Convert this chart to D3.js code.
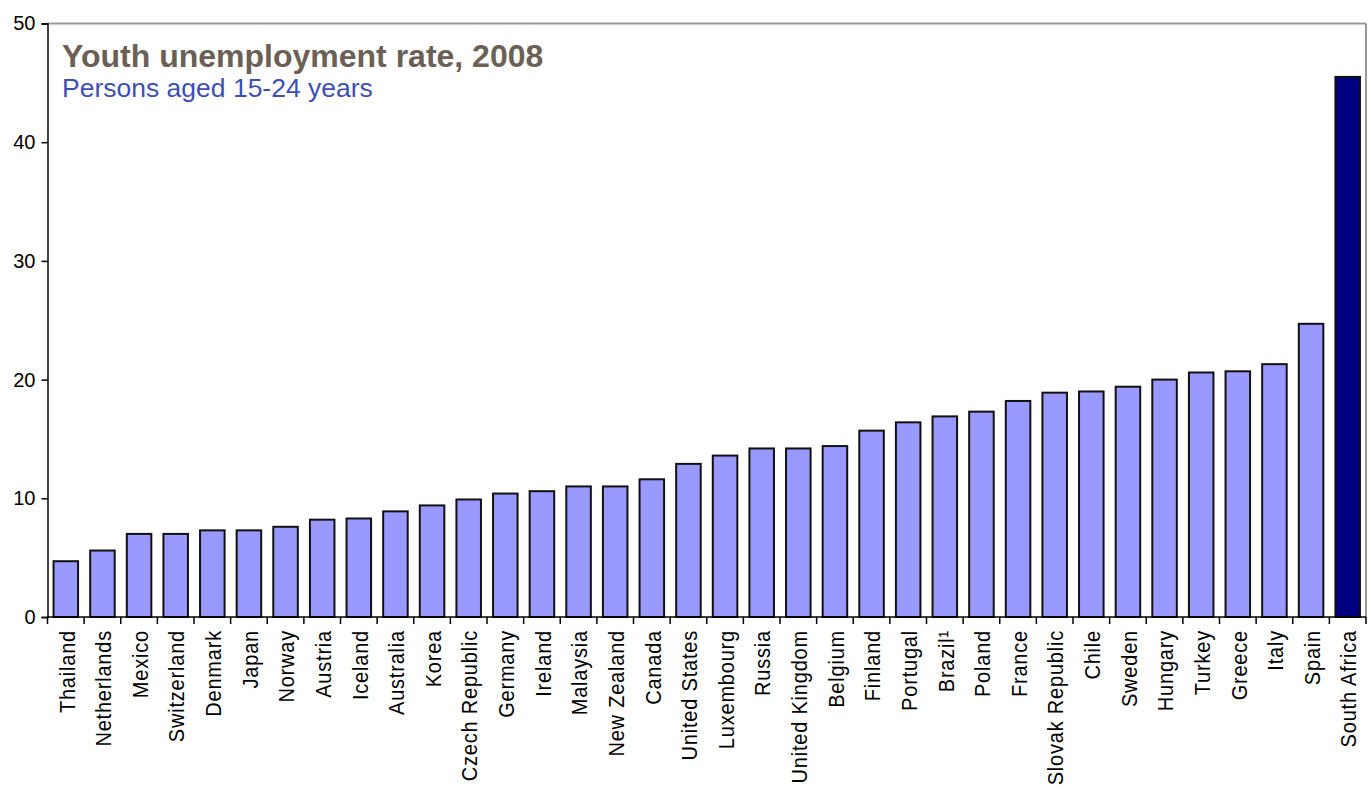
<!DOCTYPE html>
<html>
<head>
<meta charset="utf-8">
<script src="https://cdn.jsdelivr.net/npm/d3@7"></script>
<style>
  html, body { margin: 0; padding: 0; background: #fff; }
  svg { display: block; font-family: "Liberation Sans", Arial, sans-serif; }
</style>
</head>
<body>
<svg id="chart" width="1372" height="788"></svg>
<script>
// Youth unemployment rate by country, 2008 (persons aged 15-24, %)
const countries = [
  "Thailand", "Netherlands", "Mexico", "Switzerland", "Denmark", "Japan",
  "Norway", "Austria", "Iceland", "Australia", "Korea", "Czech Republic",
  "Germany", "Ireland", "Malaysia", "New Zealand", "Canada", "United States",
  "Luxembourg", "Russia", "United Kingdom", "Belgium", "Finland", "Portugal",
  "Brazil\u00B9", "Poland", "France", "Slovak Republic", "Chile", "Sweden",
  "Hungary", "Turkey", "Greece", "Italy", "Spain", "South Africa"
];
const rates = [
  4.7, 5.6, 7.0, 7.0, 7.3, 7.3,
  7.6, 8.2, 8.3, 8.9, 9.4, 9.9,
  10.4, 10.6, 11.0, 11.0, 11.6, 12.9,
  13.6, 14.2, 14.2, 14.4, 15.7, 16.4,
  16.9, 17.3, 18.2, 18.9, 19.0, 19.4,
  20.0, 20.6, 20.7, 21.3, 24.7, 45.5
];
const highlighted = ["South Africa"];
const yTicks = [0, 10, 20, 30, 40, 50];
const titleText = "Youth unemployment rate, 2008";
const subtitleText = "Persons aged 15-24 years";

const rows = countries.map((c, i) => ({ country: c, rate: rates[i] }));

const svg = d3.select("#chart");
const W = 1372, H = 788;
const margin = { left: 47.5, right: 6, top: 23.5, bottom: 171 };
const x0 = margin.left, x1 = W - margin.right;
const y0 = H - margin.bottom, y1 = margin.top;

const x = d3.scaleBand()
  .domain(countries)
  .range([x0, x1])
  .paddingInner(0.33)
  .paddingOuter(0.165);

const y = d3.scaleLinear().domain([0, 50]).range([y0, y1]);

// plot frame: grey top and right edges
svg.append("line")
  .attr("x1", x0).attr("x2", x1).attr("y1", y1).attr("y2", y1)
  .attr("stroke", "#999").attr("stroke-width", 2);
svg.append("line")
  .attr("x1", x1).attr("x2", x1).attr("y1", y1).attr("y2", y0)
  .attr("stroke", "#999").attr("stroke-width", 2);

// bars
svg.append("g").selectAll("rect")
  .data(rows)
  .join("rect")
  .attr("x", d => x(d.country))
  .attr("width", x.bandwidth())
  .attr("y", d => y(d.rate))
  .attr("height", d => y(0) - y(d.rate))
  .attr("fill", d => highlighted.includes(d.country) ? "#000080" : "#9999ff")
  .attr("stroke", "#111")
  .attr("stroke-width", 2);

// y axis
const yAxis = d3.axisLeft(y).tickValues(yTicks).tickSize(6).tickPadding(6);
const gy = svg.append("g").attr("transform", `translate(${x0},0)`).call(yAxis);
gy.select(".domain").attr("stroke", "#000").attr("stroke-width", 1.5);
gy.selectAll(".tick line").attr("stroke", "#000").attr("stroke-width", 1.5);
gy.selectAll(".tick text")
  .attr("font-size", 20).attr("fill", "#000")
  .attr("font-family", "Liberation Sans, Arial, sans-serif");

// x axis: ticks sit on category boundaries
const step = x.step();
const boundaries = d3.range(countries.length + 1).map(i => x0 + i * step);
svg.append("line")
  .attr("x1", x0).attr("x2", x1).attr("y1", y0).attr("y2", y0)
  .attr("stroke", "#000").attr("stroke-width", 1.5);
svg.append("g").selectAll("line")
  .data(boundaries)
  .join("line")
  .attr("x1", d => d).attr("x2", d => d)
  .attr("y1", y0).attr("y2", y0 + 7)
  .attr("stroke", "#000").attr("stroke-width", 1.5);

// rotated category labels
svg.append("g").selectAll("text")
  .data(countries)
  .join("text")
  .attr("transform", d => `translate(${x(d) + x.bandwidth() / 2 + 1},${y0 + 13}) rotate(-90) scale(1,1.1)`)
  .attr("text-anchor", "end")
  .attr("dy", "0.35em")
  .attr("font-size", 20)
  .attr("letter-spacing", 0.8)
  .attr("fill", "#000")
  .text(d => d);

// title block
svg.append("text")
  .attr("x", 62).attr("y", 67)
  .attr("font-size", 32).attr("font-weight", "bold")
  .attr("fill", "#6b6055")
  .text(titleText);
svg.append("text")
  .attr("x", 62).attr("y", 97)
  .attr("font-size", 26.5)
  .attr("fill", "#3d4fb5")
  .text(subtitleText);
</script>
</body>
</html>
